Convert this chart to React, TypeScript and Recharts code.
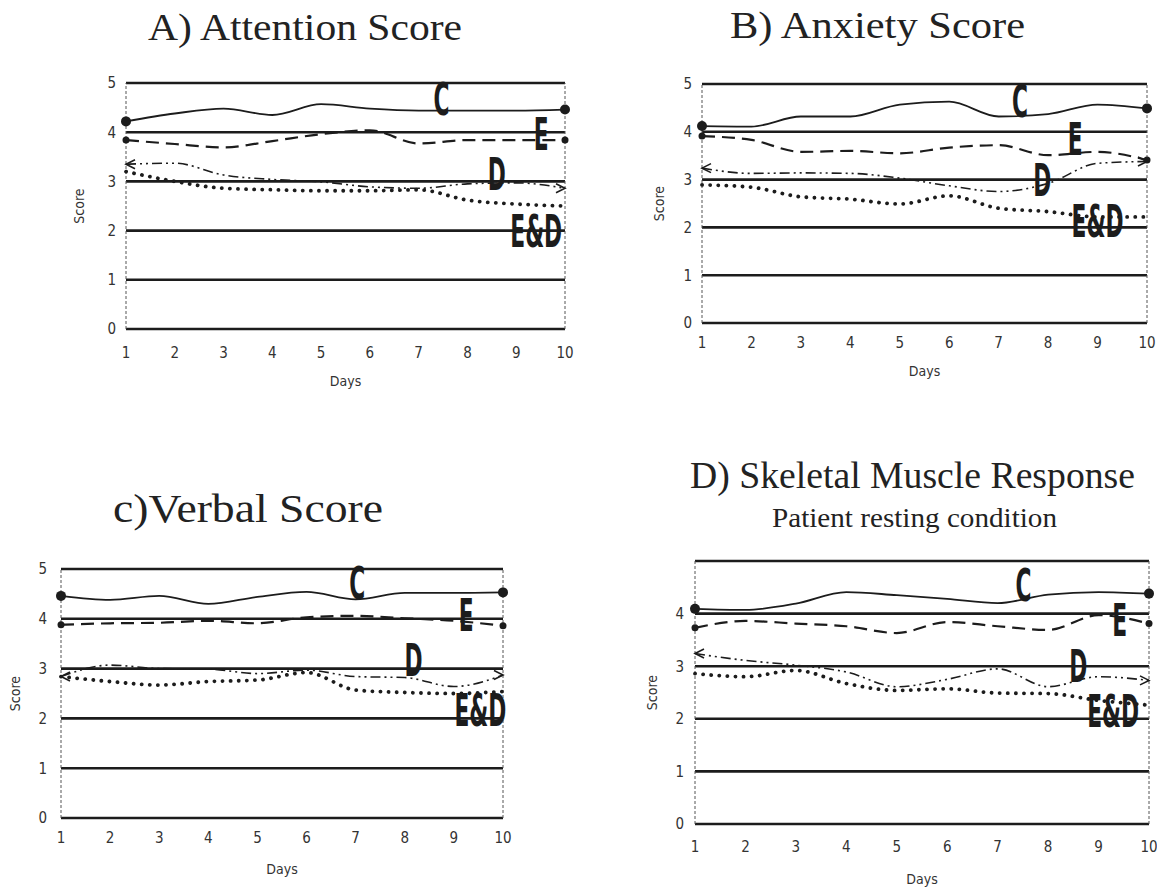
import React from 'react';
import { LineChart, Line, XAxis, YAxis, CartesianGrid, ReferenceLine, ReferenceDot } from 'recharts';

// days on the x axis and score ticks
const days = [1, 2, 3, 4, 5, 6, 7, 8, 9, 10];
const scoreTicks = [0, 1, 2, 3, 4, 5];
const scoreLabels = ['0', '1', '2', '3', '4', '5'];
const skeletalScoreLabels = ['0', '1', '2', '3', '4', ''];

// A) Attention Score
const attentionC = [4.22, 4.38, 4.48, 4.35, 4.57, 4.48, 4.44, 4.44, 4.44, 4.46];
const attentionE = [3.84, 3.76, 3.69, 3.82, 3.96, 4.04, 3.77, 3.84, 3.84, 3.84];
const attentionD = [3.35, 3.37, 3.13, 3.04, 2.99, 2.89, 2.86, 2.95, 2.97, 2.86];
const attentionED = [3.2, 3.0, 2.86, 2.83, 2.81, 2.81, 2.83, 2.62, 2.54, 2.5];

// B) Anxiety Score
const anxietyC = [4.12, 4.11, 4.32, 4.32, 4.57, 4.63, 4.32, 4.37, 4.57, 4.49];
const anxietyE = [3.91, 3.83, 3.58, 3.6, 3.55, 3.67, 3.72, 3.51, 3.58, 3.41];
const anxietyD = [3.24, 3.13, 3.14, 3.13, 3.03, 2.87, 2.75, 2.92, 3.34, 3.38];
const anxietyED = [2.89, 2.84, 2.64, 2.59, 2.49, 2.66, 2.4, 2.33, 2.22, 2.22];

// c) Verbal Score
const verbalC = [4.46, 4.38, 4.46, 4.3, 4.44, 4.54, 4.39, 4.52, 4.52, 4.53];
const verbalE = [3.88, 3.91, 3.92, 3.96, 3.91, 4.03, 4.06, 4.01, 3.96, 3.86];
const verbalD = [2.84, 3.07, 3.0, 2.99, 2.9, 2.97, 2.84, 2.82, 2.64, 2.87];
const verbalED = [2.84, 2.74, 2.67, 2.74, 2.77, 2.92, 2.57, 2.52, 2.5, 2.54];

// D) Skeletal Muscle Response
const skeletalC = [4.09, 4.07, 4.19, 4.41, 4.35, 4.28, 4.2, 4.36, 4.41, 4.38];
const skeletalE = [3.73, 3.86, 3.81, 3.76, 3.63, 3.84, 3.76, 3.69, 3.97, 3.81];
const skeletalD = [3.24, 3.11, 3.02, 2.89, 2.61, 2.75, 2.95, 2.61, 2.8, 2.73];
const skeletalED = [2.86, 2.8, 2.92, 2.67, 2.54, 2.57, 2.49, 2.48, 2.35, 2.26];

const INK = '#1c1c1c';
const tickFont = '"Liberation Sans Narrow", "DejaVu Sans Condensed", "DejaVu Sans", sans-serif';

const buildRows = (c: number[], e: number[], d: number[], ed: number[]) =>
  days.map((day, i) => ({ day, C: c[i], E: e[i], D: d[i], ED: ed[i] }));

const endDot = (kind: 'circle' | 'small' | 'arrow') => (p: any) => {
  const { cx, cy, index } = p;
  const last = index === days.length - 1;
  if (index !== 0 && !last) return <g key={index} />;
  if (kind === 'arrow') {
    const s = last ? -1 : 1;
    return (
      <path
        key={index}
        d={`M${cx + s * 9},${cy - 4.5} L${cx},${cy} L${cx + s * 9},${cy + 4.5}`}
        fill="none"
        stroke={INK}
        strokeWidth={1.6}
      />
    );
  }
  return <circle key={index} cx={cx} cy={cy} r={kind === 'circle' ? 5 : 3.5} fill={INK} />;
};

const BigLabel = (props: any) => {
  const { viewBox, text } = props;
  if (!viewBox) return null;
  return (
    <text
      transform={`translate(${viewBox.x},${viewBox.y}) scale(0.55,1)`}
      textAnchor="middle"
      dominantBaseline="central"
      fontFamily='"Liberation Sans Narrow", "DejaVu Sans Condensed", sans-serif'
      fontWeight="bold"
      fontSize={44}
      fill={INK}
    >
      {text}
    </text>
  );
};

type Tag = { text: string; day: number; score: number };
type Panel = {
  rows: ReturnType<typeof buildRows>;
  plot: { left: number; right: number; top: number; bottom: number };
  yLabels: string[];
  yGap: number;
  xGap: number;
  daysGap: number;
  scoreGap: number;
  tags: Tag[];
};

const panels: Panel[] = [
  {
    rows: buildRows(attentionC, attentionE, attentionD, attentionED),
    plot: { left: 126, right: 565, top: 83, bottom: 329 },
    yLabels: scoreLabels,
    yGap: 10,
    xGap: 18,
    daysGap: 47,
    scoreGap: 27,
    tags: [
      { text: 'C', day: 7.47, score: 4.67 },
      { text: 'E', day: 9.51, score: 3.96 },
      { text: 'D', day: 8.6, score: 3.13 },
      { text: 'E&D', day: 9.41, score: 1.98 },
    ],
  },
  {
    rows: buildRows(anxietyC, anxietyE, anxietyD, anxietyED),
    plot: { left: 702, right: 1147, top: 84, bottom: 323 },
    yLabels: scoreLabels,
    yGap: 10,
    xGap: 14,
    daysGap: 43,
    scoreGap: 23,
    tags: [
      { text: 'C', day: 7.43, score: 4.63 },
      { text: 'E', day: 8.55, score: 3.83 },
      { text: 'D', day: 7.88, score: 2.98 },
      { text: 'E&D', day: 9.0, score: 2.12 },
    ],
  },
  {
    rows: buildRows(verbalC, verbalE, verbalD, verbalED),
    plot: { left: 61, right: 503, top: 569, bottom: 818 },
    yLabels: scoreLabels,
    yGap: 14,
    xGap: 14,
    daysGap: 46,
    scoreGap: 26,
    tags: [
      { text: 'C', day: 7.03, score: 4.71 },
      { text: 'E', day: 9.25, score: 4.06 },
      { text: 'D', day: 8.18, score: 3.16 },
      { text: 'E&D', day: 9.54, score: 2.16 },
    ],
  },
  {
    rows: buildRows(skeletalC, skeletalE, skeletalD, skeletalED),
    plot: { left: 695, right: 1149, top: 561, bottom: 824 },
    yLabels: skeletalScoreLabels,
    yGap: 11,
    xGap: 17,
    daysGap: 50,
    scoreGap: 23,
    tags: [
      { text: 'C', day: 7.51, score: 4.54 },
      { text: 'E', day: 9.42, score: 3.87 },
      { text: 'D', day: 8.6, score: 3.0 },
      { text: 'E&D', day: 9.29, score: 2.13 },
    ],
  },
];

const PAD_L = 70;
const PAD_R = 15;
const PAD_T = 20;
const PAD_B = 65;

const ScorePanel: React.FC<{ panel: Panel }> = ({ panel }) => {
  const { plot } = panel;
  const width = plot.right - plot.left + PAD_L + PAD_R;
  const height = plot.bottom - plot.top + PAD_T + PAD_B;
  return (
    <div style={{ position: 'absolute', left: plot.left - PAD_L, top: plot.top - PAD_T }}>
      <LineChart
        width={width}
        height={height}
        data={panel.rows}
        margin={{ top: PAD_T, right: PAD_R, bottom: 0, left: 0 }}
      >
        <CartesianGrid horizontal vertical={false} stroke={INK} strokeWidth={2.6} />
        <XAxis
          dataKey="day"
          type="number"
          domain={[1, 10]}
          ticks={days}
          height={PAD_B}
          axisLine={false}
          tickLine={false}
          tickSize={0}
          tickMargin={panel.xGap}
          tick={{ fill: '#333', fontSize: 15, fontFamily: tickFont }}
          label={{
            value: 'Days',
            position: 'insideTop',
            offset: panel.daysGap,
            style: { fill: '#333', fontSize: 14, fontFamily: tickFont },
          }}
        />
        <YAxis
          type="number"
          domain={[0, 5]}
          ticks={scoreTicks}
          width={PAD_L}
          axisLine={false}
          tickLine={false}
          tickSize={0}
          tickMargin={panel.yGap}
          tickFormatter={(v: number) => panel.yLabels[scoreTicks.indexOf(v)]}
          tick={{ fill: '#333', fontSize: 15, fontFamily: tickFont }}
          label={{
            value: 'Score',
            angle: -90,
            position: 'insideLeft',
            offset: PAD_L - panel.scoreGap - 20,
            style: { fill: '#333', fontSize: 14, fontFamily: tickFont, textAnchor: 'middle' },
          }}
        />
        <ReferenceLine x={1} stroke="#555" strokeWidth={1} strokeDasharray="3 2" />
        <ReferenceLine x={10} stroke="#555" strokeWidth={1} strokeDasharray="3 2" />
        <Line
          dataKey="C"
          type="monotone"
          stroke={INK}
          strokeWidth={1.8}
          dot={endDot('circle')}
          activeDot={false}
          isAnimationActive={false}
        />
        <Line
          dataKey="E"
          type="monotone"
          stroke={INK}
          strokeWidth={2.2}
          strokeDasharray="13 7"
          dot={endDot('small')}
          activeDot={false}
          isAnimationActive={false}
        />
        <Line
          dataKey="D"
          type="monotone"
          stroke={INK}
          strokeWidth={1.6}
          strokeDasharray="10 4 2 4 2 4"
          dot={endDot('arrow')}
          activeDot={false}
          isAnimationActive={false}
        />
        <Line
          dataKey="ED"
          type="monotone"
          stroke={INK}
          strokeWidth={3.8}
          strokeDasharray="0.1 8"
          strokeLinecap="round"
          dot={false}
          activeDot={false}
          isAnimationActive={false}
        />
        {panel.tags.map((t) => (
          <ReferenceDot
            key={t.text}
            x={t.day}
            y={t.score}
            r={0}
            fill="none"
            stroke="none"
            ifOverflow="visible"
            label={(p: any) => <BigLabel {...p} text={t.text} />}
          />
        ))}
      </LineChart>
    </div>
  );
};

const titles = [
  { text: 'A) Attention Score', x: 148, y: 40, size: 38, len: 314 },
  { text: 'B) Anxiety Score', x: 730, y: 38, size: 37, len: 295 },
  { text: 'c)Verbal Score', x: 113, y: 522, size: 40, len: 270 },
  { text: 'D) Skeletal Muscle Response', x: 690, y: 488, size: 38, len: 445 },
  { text: 'Patient resting condition', x: 772, y: 527, size: 28, len: 285 },
];

const App: React.FC = () => (
  <div style={{ position: 'absolute', left: 0, top: 0, width: 1157, height: 888, background: '#fff' }}>
    {panels.map((p, i) => (
      <ScorePanel key={i} panel={p} />
    ))}
    <svg
      width={1157}
      height={888}
      style={{ position: 'absolute', left: 0, top: 0, pointerEvents: 'none' }}
    >
      {titles.map((t) => (
        <text
          key={t.text}
          x={t.x}
          y={t.y}
          fontFamily='"Liberation Serif", "DejaVu Serif", serif'
          fontSize={t.size}
          fill="#222"
          textLength={t.len}
          lengthAdjust="spacingAndGlyphs"
        >
          {t.text}
        </text>
      ))}
    </svg>
  </div>
);

export default App;
